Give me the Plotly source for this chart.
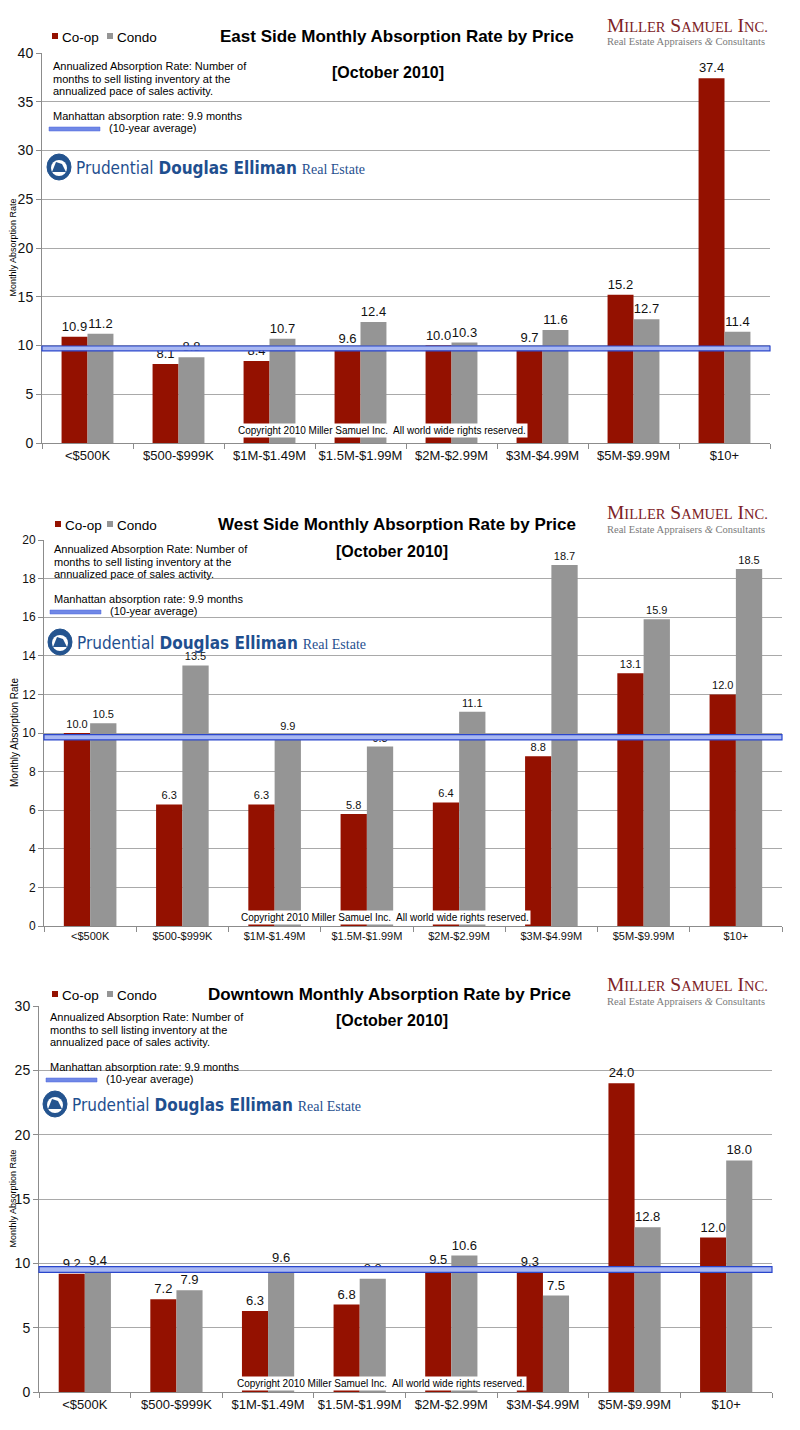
import plotly.graph_objects as go

categories = ["<$500K", "$500-$999K", "$1M-$1.49M", "$1.5M-$1.99M",
              "$2M-$2.99M", "$3M-$4.99M", "$5M-$9.99M", "$10+"]

east_coop = [10.9, 8.1, 8.4, 9.6, 10.0, 9.7, 15.2, 37.4]
east_condo = [11.2, 8.8, 10.7, 12.4, 10.3, 11.6, 12.7, 11.4]
west_coop = [10.0, 6.3, 6.3, 5.8, 6.4, 8.8, 13.1, 12.0]
west_condo = [10.5, 13.5, 9.9, 9.3, 11.1, 18.7, 15.9, 18.5]
down_coop = [9.2, 7.2, 6.3, 6.8, 9.5, 9.3, 24.0, 12.0]
down_condo = [9.4, 7.9, 9.6, 8.8, 10.6, 7.5, 12.8, 18.0]

titles = ["East Side Monthly Absorption Rate by Price",
          "West Side Monthly Absorption Rate by Price",
          "Downtown Monthly Absorption Rate by Price"]
manhattan_avg = 9.9

COOP = "#941100"
CONDO = "#959595"
GRID = "#a9a9a9"
FONT = "Liberation Sans, Arial, sans-serif"
SERIF = "Liberation Serif, Times New Roman, serif"
OFF = 8  # page body margin
W, H = 800 - OFF, 1430 - OFF


def X(px):
    return (px - OFF) / W


def Y(py):
    return 1 - (py - OFF) / H


charts = [
    dict(coop=east_coop, condo=east_condo, ymax=40, dtick=5, top=53, bottom=443,
         left=42, right=770, xt=13, yt=14, vt=13, band=(9.45, 9.95),
         title_y=36, title_x=397, oct_y=72, oct_x=388, note_x=51, note_y=66,
         man_y=116, samp_y=129, prud_y=167, prud_x=47, miller_y=25,
         copy_y=430, copy_x=382, ytitle_x=12.5, ytitle_s=9),
    dict(coop=west_coop, condo=west_condo, ymax=20, dtick=2, top=540, bottom=926,
         left=44, right=782, xt=11, yt=12, vt=11, band=(9.64, 9.92),
         title_y=524, title_x=397, oct_y=552, oct_x=392, note_x=52, note_y=549,
         man_y=599, samp_y=612, prud_y=642, prud_x=48, miller_y=513,
         copy_y=917, copy_x=385, ytitle_x=15, ytitle_s=10),
    dict(coop=down_coop, condo=down_condo, ymax=30, dtick=5, top=1006, bottom=1392,
         left=39, right=772, xt=13, yt=14, vt=13, band=(9.3, 9.75),
         title_y=994, title_x=389, oct_y=1020, oct_x=392, note_x=48, note_y=1017,
         man_y=1067, samp_y=1080, prud_y=1104, prud_x=43, miller_y=984,
         copy_y=1383, copy_x=381, ytitle_x=12.5, ytitle_s=9),
]

fig = go.Figure()
annotations = []
shapes = []
layout = {}

for i, c in enumerate(charts):
    n = "" if i == 0 else str(i + 1)
    xa, ya = "x" + n, "y" + n
    for name, vals, col in (("Co-op", c["coop"], COOP), ("Condo", c["condo"], CONDO)):
        fig.add_trace(go.Bar(
            x=categories, y=vals, name=name, marker=dict(color=col, line=dict(width=0)),
            text=[f"{v:.1f}" for v in vals], textposition="outside",
            textfont=dict(family=FONT, size=c["vt"], color="#111"),
            constraintext="none", cliponaxis=False, showlegend=False,
            xaxis=xa, yaxis=ya, hoverinfo="skip"))

    layout["xaxis" + n] = dict(
        domain=[X(c["left"]), X(c["right"])], anchor=ya, type="category",
        showline=True, linecolor="#8c8c8c", linewidth=1, ticks="outside",
        tickson="boundaries", ticklen=5, tickcolor="#8c8c8c", showgrid=False,
        tickangle=0,
        tickfont=dict(family=FONT, size=c["xt"], color="#111"), automargin=False)
    layout["yaxis" + n] = dict(
        domain=[Y(c["bottom"]), Y(c["top"])], anchor=xa, range=[0, c["ymax"]],
        dtick=c["dtick"], showline=True, linecolor="#8c8c8c", linewidth=1,
        ticks="outside", ticklen=5, tickcolor="#8c8c8c", showgrid=True,
        gridcolor=GRID, gridwidth=1, zeroline=False,
        tickfont=dict(family=FONT, size=c["yt"], color="#111"), automargin=False)

    # Manhattan 10-year average band
    shapes.append(dict(type="rect", xref=xa + " domain", yref=ya, x0=0, x1=1,
                       y0=c["band"][0], y1=c["band"][1], fillcolor="#a9b8f2",
                       line=dict(color="#2a46cc", width=1.2), layer="above"))

    # Titles
    annotations.append(dict(text="<b>" + titles[i] + "</b>", x=X(c["title_x"]),
                            y=Y(c["title_y"]), xref="paper", yref="paper",
                            showarrow=False, font=dict(family=FONT, size=17, color="#000"),
                            xanchor="center", yanchor="middle"))
    annotations.append(dict(text="<b>[October 2010]</b>", x=X(c["oct_x"]),
                            y=Y(c["oct_y"]), xref="paper", yref="paper",
                            showarrow=False, font=dict(family=FONT, size=16, color="#000"),
                            xanchor="center", yanchor="middle"))

    # Legend (manual)
    ly = c["title_y"] + 1
    for sx, tx, col, lab in ((52 + (3 if i == 1 else 0), 60 + (3 if i == 1 else 0), COOP, "Co-op"),
                             (107, 115, CONDO, "Condo")):
        shapes.append(dict(type="rect", xref="paper", yref="paper", x0=X(sx),
                           x1=X(sx + 6), y0=Y(ly + 2), y1=Y(ly - 4),
                           fillcolor=col, line=dict(width=0)))
        annotations.append(dict(text=lab, x=X(tx), y=Y(ly), xref="paper", yref="paper",
                                showarrow=False, xanchor="left", yanchor="middle",
                                font=dict(family=FONT, size=13.5, color="#000")))

    # Explanatory note
    note_lines = ["Annualized Absorption Rate: Number of",
                  "months to sell listing inventory at the",
                  "annualized pace of sales activity."]
    for k, t in enumerate(note_lines):
        annotations.append(dict(text=t, x=X(c["note_x"]), y=Y(c["note_y"] + 12.5 * k),
                                xref="paper", yref="paper", showarrow=False,
                                xanchor="left", yanchor="middle",
                                font=dict(family=FONT, size=11, color="#000")))
    annotations.append(dict(text=f"Manhattan absorption rate: {manhattan_avg} months",
                            x=X(c["note_x"]), y=Y(c["man_y"]), xref="paper", yref="paper",
                            showarrow=False, xanchor="left", yanchor="middle",
                            font=dict(family=FONT, size=11, color="#000")))
    shapes.append(dict(type="rect", xref="paper", yref="paper", x0=X(c["note_x"] - 2),
                       x1=X(c["note_x"] + 49), y0=Y(c["samp_y"] + 2), y1=Y(c["samp_y"] - 2),
                       fillcolor="#7088e6", line=dict(color="#4c66dc", width=0.5)))
    annotations.append(dict(text="(10-year average)", x=X(c["note_x"] + 56), y=Y(c["samp_y"] - 1),
                            xref="paper", yref="paper", showarrow=False,
                            xanchor="left", yanchor="middle",
                            font=dict(family=FONT, size=11, color="#000")))

    # Prudential Douglas Elliman logo
    px0, py0 = c["prud_x"], c["prud_y"]
    shapes.append(dict(type="circle", xref="paper", yref="paper", x0=X(px0),
                       x1=X(px0 + 24), y0=Y(py0 + 13), y1=Y(py0 - 13),
                       fillcolor="#24548f", line=dict(color="#24548f", width=1)))
    shapes.append(dict(type="circle", xref="paper", yref="paper", x0=X(px0 + 4),
                       x1=X(px0 + 20), y0=Y(py0 + 9), y1=Y(py0 - 7),
                       fillcolor="#ffffff", line=dict(width=0)))
    shapes.append(dict(type="path", xref="paper", yref="paper",
                       path=(f"M {X(px0 + 5)},{Y(py0 + 5)} L {X(px0 + 9)},{Y(py0 - 5)} "
                             f"L {X(px0 + 15)},{Y(py0 - 3)} L {X(px0 + 19)},{Y(py0 + 5)} Z"),
                       fillcolor="#24548f", line=dict(width=0)))
    annotations.append(dict(
        text=("Prudential <b>Douglas Elliman</b> "
              "<span style='font-family:Liberation Serif, serif;font-size:14px'>Real Estate</span>"),
        x=X(px0 + 27), y=Y(py0 + 1), xref="paper", yref="paper", showarrow=False,
        xanchor="left", yanchor="middle",
        font=dict(family="Liberation Sans Narrow, DejaVu Sans Condensed, Arial Narrow, sans-serif",
                  size=17, color="#1f4f8f")))

    # Miller Samuel logo
    my = c["miller_y"]
    annotations.append(dict(
        text=("M<span style='font-size:14.5px'>ILLER</span> S<span style='font-size:14.5px'>AMUEL</span>"
              " I<span style='font-size:14.5px'>NC.</span>"),
        x=X(605), y=Y(my), xref="paper", yref="paper", showarrow=False,
        xanchor="left", yanchor="middle", bgcolor="#ffffff",
        font=dict(family=SERIF, size=19.5, color="#7d2226")))
    annotations.append(dict(
        text="Real Estate Appraisers <i>&amp;</i> Consultants",
        x=X(605), y=Y(my + 17), xref="paper", yref="paper", showarrow=False,
        xanchor="left", yanchor="middle", bgcolor="#ffffff",
        font=dict(family=SERIF, size=10.5, color="#7a7a7a")))

    # Copyright
    annotations.append(dict(
        text="Copyright 2010 Miller Samuel Inc.\u00a0 All world wide rights reserved.",
        x=X(c["copy_x"]), y=Y(c["copy_y"]), xref="paper", yref="paper", showarrow=False,
        xanchor="center", yanchor="middle", bgcolor="#ffffff", borderpad=1,
        font=dict(family=FONT, size=10, color="#000")))

    # Y axis title
    annotations.append(dict(
        text="Monthly Absorption Rate", textangle=-90, x=X(c["ytitle_x"]),
        y=Y((c["top"] + c["bottom"]) / 2), xref="paper", yref="paper", showarrow=False,
        xanchor="center", yanchor="middle", borderpad=0,
        font=dict(family=FONT, size=c["ytitle_s"], color="#000")))

fig.update_layout(
    width=W, height=H, margin=dict(l=0, r=0, t=0, b=0),
    paper_bgcolor="#ffffff", plot_bgcolor="#ffffff",
    barmode="group", bargap=0.43, bargroupgap=0,
    showlegend=False, annotations=annotations, shapes=shapes,
    font=dict(family=FONT), **layout)

fig.write_html("out.html")
